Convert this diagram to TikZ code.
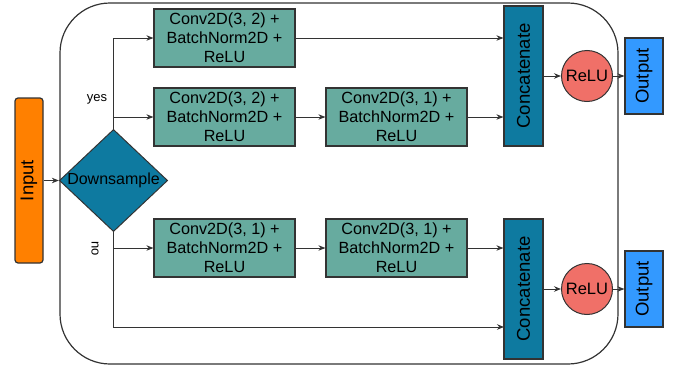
\documentclass[tikz,border=0pt]{standalone}
\usepackage{fontspec}
\setmainfont{Liberation Sans}
\usetikzlibrary{shapes.geometric,arrows.meta,calc}
\definecolor{convfill}{HTML}{67AB9F}
\definecolor{deepteal}{HTML}{0E7AA0}
\definecolor{relufill}{HTML}{F07068}
\definecolor{inputfill}{HTML}{FF8000}
\definecolor{outfill}{HTML}{3399FF}
\definecolor{edge}{HTML}{333333}
\tikzset{
  box/.style={draw=edge, line width=1.2pt, inner sep=0pt, align=center},
  convbox/.style={box, fill=convfill, minimum width=141pt, minimum height=58pt,
    font=\fontsize{16.2}{19.2}\selectfont},
  catbox/.style={box, fill=deepteal, minimum width=39pt, minimum height=140pt,
    font=\fontsize{18.5}{22}\selectfont},
  outbox/.style={box, fill=outfill, minimum width=38pt, minimum height=76pt,
    font=\fontsize{18.5}{22}\selectfont},
  relu/.style={circle, draw=edge, line width=1pt, fill=relufill, minimum size=51pt,
    inner sep=0pt, font=\fontsize{16.5}{20}\selectfont},
  link/.style={draw=edge, line width=1pt, -{Stealth[length=7pt,width=5.5pt]}},
  plain/.style={draw=edge, line width=1pt},
  tag/.style={font=\fontsize{13}{15}\selectfont, inner sep=0pt}
}
\begin{document}
\begin{tikzpicture}[x=1pt,y=-1pt]
\useasboundingbox (0,0) rectangle (681,372);
% block container
\draw[edge, line width=1.2pt, rounded corners=50pt] (60,3) rectangle (618,364);

% input and decision
\node[box, fill=inputfill, rounded corners=3pt, minimum width=28pt, minimum height=165pt,
  font=\fontsize{18.5}{22}\selectfont] (in) at (29,180.5) {\rotatebox{90}{Input}};
\node[diamond, draw=edge, line width=1pt, fill=deepteal, minimum width=107pt,
  minimum height=101pt, inner sep=0pt, aspect=1.06,
  font=\fontsize{16}{19}\selectfont] (ds) at (113.5,180.5) {Downsample};

% convolution blocks
\node[convbox] (c1) at (224.5,38)  {Conv2D(3, 2) +\\BatchNorm2D +\\ReLU};
\node[convbox] (c2) at (224.5,117) {Conv2D(3, 2) +\\BatchNorm2D +\\ReLU};
\node[convbox] (c3) at (396.5,117) {Conv2D(3, 1) +\\BatchNorm2D +\\ReLU};
\node[convbox] (c4) at (224.5,248) {Conv2D(3, 1) +\\BatchNorm2D +\\ReLU};
\node[convbox] (c5) at (396.5,248) {Conv2D(3, 1) +\\BatchNorm2D +\\ReLU};

% merge, activation, output
\node[catbox] (cat1) at (523.5,76)  {\rotatebox{90}{Concatenate}};
\node[catbox] (cat2) at (523.5,289) {\rotatebox{90}{Concatenate}};
\node[relu] (r1) at (587,76)  {ReLU};
\node[relu] (r2) at (587,289) {ReLU};
\node[outbox] (o1) at (644,76)  {\rotatebox{90}{Output}};
\node[outbox] (o2) at (644,289) {\rotatebox{90}{Output}};

\coordinate (skip) at (504,327);

% branch labels
\node[tag] (yes) at (97,99) {yes};
\node[tag, rotate=-90] (no) at (95,249) {no};

% connectors
\draw[link] (in.east) -- (ds.west);
\draw[link] (ds.north) |- (c1.west);
\draw[link] (ds.north) |- (c2.west);
\draw[link] (c1.east) -- (c1.east -| cat1.west);
\draw[link] (c2.east) -- (c3.west);
\draw[link] (c3.east) -- (c3.east -| cat1.west);
\draw[link] (cat1.east) -- (r1.west);
\draw[link] (r1.east) -- (o1.west);

\draw[link] (ds.south) |- (c4.west);
\draw[link] (ds.south) |- (skip);
\draw[link] (c4.east) -- (c5.west);
\draw[link] (c5.east) -- (c5.east -| cat2.west);
\draw[link] (cat2.east) -- (r2.west);
\draw[link] (r2.east) -- (o2.west);
\end{tikzpicture}
\end{document}
